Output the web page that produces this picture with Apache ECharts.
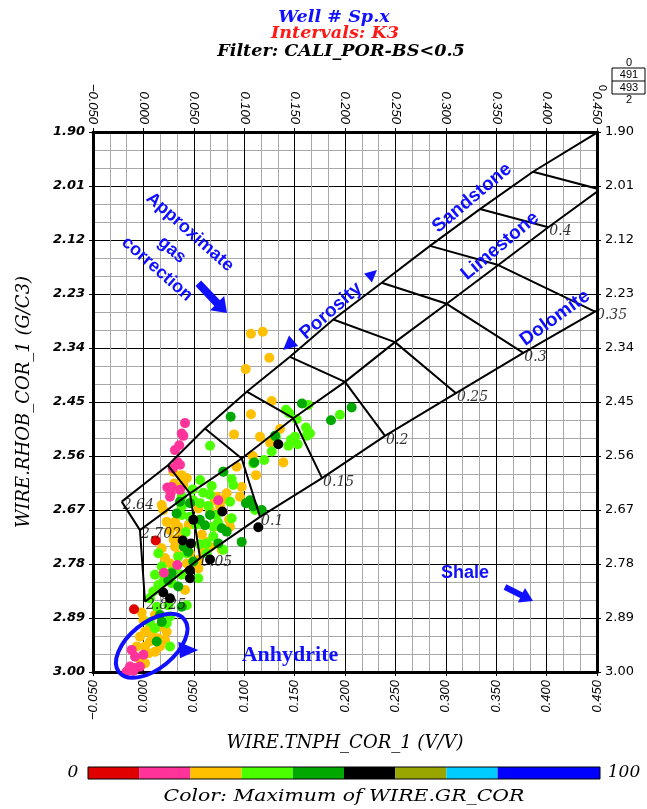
<!DOCTYPE html>
<html><head><meta charset="utf-8">
<script src="https://cdn.jsdelivr.net/npm/echarts@6/dist/echarts.min.js"></script>
<style>html,body{margin:0;padding:0;background:#fff}#c{width:647px;height:809px}</style>
</head><body><div id="c"></div>
<script>
// ---------------- data ----------------
const POROSITY = [0, 0.05, 0.1, 0.15, 0.2, 0.25, 0.3, 0.35, 0.4, 0.45];
const SAND_TNPH = [-0.0215, 0.0244, 0.0611, 0.1025, 0.1454, 0.1884, 0.2364, 0.2843, 0.3339, 0.3865];
const SAND_RHOB = [2.653, 2.579, 2.504, 2.429, 2.358, 2.282, 2.207, 2.132, 2.057, 1.981];
const SAND_END = [0.455, 1.895];
const LIME_TNPH = [-0.0034, 0.0462, 0.0975, 0.1487, 0.2000, 0.2496, 0.3009, 0.3521, 0.4017, 0.4530];
const LIME_RHOB = [2.711, 2.636, 2.565, 2.483, 2.409, 2.328, 2.250, 2.171, 2.094, 2.017];
const DOLO_TNPH = [0.0016, 0.0562, 0.1157, 0.1772, 0.2397, 0.3101, 0.3769, 0.4480];
const DOLO_RHOB = [2.857, 2.768, 2.684, 2.605, 2.519, 2.432, 2.350, 2.266];
const DOLO_END = [0.458, 2.254];
const MATRIX_LABELS = ['2.64', '2.702', '2.825'];

const GR_BREAKS = [0, 10, 20, 30, 40, 50, 60, 70, 80, 100];
const GR_COLORS = ['#e00000', '#ff3399', '#ffc000', '#4cff00', '#00a800', '#000000', '#99a600', '#00ccff', '#0000ff'];

// points per GR class: [TNPH, RHOB]; GR value of the class
const GR_ORANGE = 25, GR_LGREEN = 35, GR_GREEN = 45, GR_PINK = 15, GR_BLACK = 55, GR_RED = 5;
const PTS_ORANGE = [[0.1067,2.311],[0.1184,2.307],[0.1249,2.360],[0.1015,2.383],[0.1273,2.448],[0.1067,2.475],[0.1355,2.505],[0.0899,2.516],[0.1157,2.521],[0.1256,2.533],[0.1084,2.560],[0.1388,2.573],[0.1117,2.599],[0.0297,2.592],[0.0380,2.599],[0.0430,2.605],[0.0304,2.616],[0.0396,2.619],[0.0182,2.660],[0.0727,2.643],[0.0826,2.636],[0.0958,2.643],[0.0777,2.650],[0.0710,2.650],[0.0661,2.670],[0.0545,2.667],[0.0760,2.663],[0.0197,2.670],[0.0231,2.694],[0.0313,2.694],[0.0346,2.704],[0.0264,2.711],[0.0363,2.721],[0.0859,2.704],[0.0710,2.704],[0.0628,2.735],[0.0777,2.751],[0.0313,2.745],[0.0182,2.748],[0.0214,2.768],[0.0264,2.779],[0.0346,2.762],[0.0430,2.779],[0.0545,2.772],[0.0545,2.789],[0.0462,2.758],[0.0661,2.745],[0.0926,2.582],[0.0975,2.623],[0.0413,2.833],[-0.0017,2.879],[0.0000,2.894],[0.0016,2.918],[0.0082,2.921],[0.0165,2.908],[0.0231,2.918],[-0.0034,2.928],[0.0065,2.938],[0.0165,2.948],[0.0016,2.948],[-0.0066,2.948],[0.0049,2.962],[0.0115,2.959],[-0.0034,2.975],[0.0016,2.982],[0.0115,2.884],[0.0065,2.904],[0.0145,2.931],[0.0214,2.935],[0.0505,2.690],[0.0580,2.720],[0.0450,2.700],[0.0600,2.755],[0.0300,2.730],[0.0850,2.690]];
const PTS_LGREEN = [[0.1636,2.456],[0.1415,2.466],[0.1447,2.473],[0.1950,2.476],[0.1521,2.485],[0.1613,2.502],[0.1653,2.514],[0.1620,2.519],[0.1315,2.521],[0.1504,2.521],[0.1464,2.527],[0.1531,2.536],[0.1438,2.539],[0.0661,2.539],[0.1273,2.551],[0.1199,2.568],[0.0793,2.592],[0.0876,2.607],[0.0380,2.643],[0.0489,2.628],[0.0594,2.635],[0.0678,2.621],[0.0892,2.619],[0.0859,2.653],[0.0644,2.662],[0.0562,2.656],[0.0727,2.680],[0.1107,2.670],[0.0562,2.609],[0.0661,2.639],[0.0495,2.650],[0.0462,2.684],[0.0876,2.687],[0.0693,2.724],[0.0693,2.704],[0.0628,2.758],[0.1090,2.575],[0.0380,2.663],[0.0380,2.680],[0.0148,2.758],[0.0346,2.765],[0.0182,2.785],[0.0281,2.796],[0.0380,2.802],[0.0628,2.738],[0.0793,2.751],[0.0430,2.758],[0.0115,2.802],[0.0197,2.802],[0.0545,2.809],[0.0148,2.823],[0.0281,2.819],[0.0098,2.836],[0.0065,2.850],[0.0132,2.867],[0.0247,2.864],[0.0430,2.864],[0.0264,2.887],[0.0065,2.898],[0.0115,2.911],[0.0231,2.901],[0.0264,2.948],[0.0520,2.700],[0.0740,2.695],[0.0420,2.715],[0.0560,2.740],[0.0330,2.785],[0.0200,2.815]];
const PTS_GREEN = [[0.1573,2.453],[0.2066,2.461],[0.1861,2.487],[0.0866,2.480],[0.1100,2.573],[0.1306,2.519],[0.1018,2.656],[0.1174,2.670],[0.1058,2.650],[0.1090,2.663],[0.0330,2.677],[0.0363,2.653],[0.0462,2.656],[0.0611,2.701],[0.0777,2.707],[0.0826,2.714],[0.0975,2.735],[0.0743,2.738],[0.0661,2.680],[0.0495,2.775],[0.0281,2.799],[0.0247,2.813],[0.0346,2.826],[0.0380,2.867],[0.0182,2.898],[0.0165,2.884],[0.0132,2.938],[0.0445,2.755],[0.0793,2.592],[0.0560,2.690],[0.0400,2.745]];
const PTS_PINK = [[0.0413,2.493],[0.0380,2.514],[0.0396,2.519],[0.0356,2.538],[0.0313,2.548],[0.0336,2.572],[0.0291,2.585],[0.0363,2.578],[0.0237,2.624],[0.0271,2.636],[0.0264,2.643],[0.0281,2.623],[0.0363,2.629],[0.0743,2.650],[0.0204,2.798],[0.0336,2.782],[-0.0116,2.955],[0.0000,2.965],[-0.0083,2.969],[-0.0133,2.989],[-0.0083,2.992],[-0.0034,2.989],[-0.0166,2.999],[-0.0100,2.998]];
const PTS_BLACK = [[0.1338,2.536],[0.0783,2.673],[0.0495,2.690],[0.1140,2.705],[0.0390,2.732],[0.0471,2.738],[0.0661,2.771],[0.0462,2.793],[0.0462,2.809],[0.0197,2.838],[0.0264,2.850]];
const PTS_RED = [[0.0122,2.732],[-0.0093,2.872]];

const X_MIN = -0.05, X_MAX = 0.45, X_STEP = 0.05;
const Y_MIN = 1.90, Y_MAX = 3.00, Y_STEP = 0.11;

// ---------------- build ----------------
const BLUE = '#1010ff';
const classes = [[PTS_ORANGE, GR_ORANGE], [PTS_LGREEN, GR_LGREEN], [PTS_GREEN, GR_GREEN], [PTS_PINK, GR_PINK], [PTS_BLACK, GR_BLACK], [PTS_RED, GR_RED]];
const logData = [];
classes.forEach(([pts, gr]) => pts.forEach(p => logData.push([p[0], p[1], gr])));

const pair = (xs, ys) => xs.map((x, i) => [x, ys[i]]);
const sandLine = pair(SAND_TNPH, SAND_RHOB).concat([SAND_END]);
const limeLine = pair(LIME_TNPH, LIME_RHOB);
const doloLine = pair(DOLO_TNPH, DOLO_RHOB).concat([DOLO_END]);
const crossLines = POROSITY.map((phi, i) => {
  const pts = [[SAND_TNPH[i], SAND_RHOB[i]], [LIME_TNPH[i], LIME_RHOB[i]]];
  if (i < DOLO_TNPH.length) pts.push([DOLO_TNPH[i], DOLO_RHOB[i]]);
  return pts;
});
const labelPts = [
  {name: MATRIX_LABELS[0], value: [SAND_TNPH[0], SAND_RHOB[0]]},
  {name: MATRIX_LABELS[1], value: [LIME_TNPH[0], LIME_RHOB[0]]},
  {name: MATRIX_LABELS[2], value: [DOLO_TNPH[0], DOLO_RHOB[0]]}
];
POROSITY.forEach((phi, i) => {
  if (i === 0) return;
  if (i < DOLO_TNPH.length) labelPts.push({name: String(phi), value: [DOLO_TNPH[i], DOLO_RHOB[i]]});
  else labelPts.push({name: String(phi), value: [LIME_TNPH[i], LIME_RHOB[i]]});
});

const lineStyle = {color: '#000', width: 2};
const mkLine = (data) => ({type: 'line', xAxisIndex: 0, yAxisIndex: 0, data, symbol: 'none', silent: true, z: 3, lineStyle, animation: false});

const fmtX = v => (v < 0 ? '\u2212' : '') + Math.abs(v).toFixed(3);
const fmtY = v => v.toFixed(2);
const xLabelFont = {fontFamily: '"Liberation Sans", Arial, sans-serif', fontStyle: 'italic', fontSize: 13, color: '#000'};
const nameFont = {fontFamily: '"DejaVu Serif", serif', fontStyle: 'italic', fontSize: 18, color: '#000'};

const xBase = {
  type: 'value', gridIndex: 0, min: X_MIN, max: X_MAX, interval: X_STEP,
  axisLine: {show: true, onZero: false, lineStyle: {color: '#000', width: 3}},
  axisTick: {show: true, inside: false, length: 4, lineStyle: {color: '#000', width: 1}},
  axisLabel: Object.assign({rotate: 90, margin: 8, formatter: fmtX}, xLabelFont),
  splitLine: {show: false}, minorTick: {show: false}, minorSplitLine: {show: false}
};
const yBase = {
  type: 'value', gridIndex: 0, min: Y_MIN, max: Y_MAX, interval: Y_STEP, inverse: true,
  axisLine: {show: true, onZero: false, lineStyle: {color: '#000', width: 3}},
  axisTick: {show: true, inside: false, length: 4, lineStyle: {color: '#000', width: 1}},
  splitLine: {show: false}, minorTick: {show: false}, minorSplitLine: {show: false}
};

const txt = (text, x, y, font, fill, rot, sx) => ({
  type: 'text', x, y, rotation: rot || 0, scaleX: sx || 1, silent: true, z: 100,
  style: {text, font, fill, textAlign: 'center', textVerticalAlign: 'middle', align: 'center', verticalAlign: 'middle'}
});
const poly = (points) => ({type: 'polygon', silent: true, z: 100, shape: {points}, style: {fill: BLUE}});
const ANNOT = 'bold 18px "Liberation Sans Narrow", "Liberation Sans", Arial, sans-serif';
const ANNOT_L = 'bold 19px "Liberation Sans Narrow", "Liberation Sans", Arial, sans-serif';
const TITLE = 'bold italic 16px "DejaVu Serif", serif';

const graphics = [
  txt('Well # Sp.x', 334, 18, TITLE, BLUE, 0, 1.1),
  txt('Intervals: K3', 335, 34, TITLE, '#ff1a1a', 0, 1.1),
  txt('Filter: CALI_POR-BS<0.5', 341, 52, TITLE, '#000', 0, 1.1),
  // top-right box
  txt('0', 629, 63, '11px "Liberation Sans", Arial', '#000'),
  {type: 'rect', silent: true, shape: {x: 612, y: 68, width: 33, height: 26}, style: {fill: 'none', stroke: '#000', lineWidth: 1}},
  {type: 'line', silent: true, shape: {x1: 612, y1: 81, x2: 645, y2: 81}, style: {stroke: '#000', lineWidth: 1}},
  txt('491', 629, 74.5, '11px "Liberation Sans", Arial', '#000'),
  txt('493', 629, 87.5, '11px "Liberation Sans", Arial', '#000'),
  txt('2', 629, 100, '11px "Liberation Sans", Arial', '#000'),
  txt('0', 604, 88, '11px "Liberation Sans", Arial', '#000', Math.PI / 2),
  // annotations
  txt('Approximate', 190, 232, ANNOT, BLUE, -0.72),
  txt('gas', 172, 250, ANNOT, BLUE, -0.72),
  txt('correction', 157, 269, ANNOT, BLUE, -0.72),
  poly([[195.5,286.1],[214.3,305.9],[210,310.2],[227,313],[224.2,296],[219.9,300.3],[201.1,280.5]]),
  txt('Porosity', 331, 311, ANNOT_L, BLUE, 0.72),
  poly([[377,270],[371.9,282.5],[364.1,273.5]]),
  poly([[283,350],[298.2,346.1],[289,335.5]]),
  txt('Sandstone', 472, 198, ANNOT_L, BLUE, 0.70),
  txt('Limestone', 500, 246, ANNOT_L, BLUE, 0.70),
  txt('Dolomite', 555, 318, ANNOT_L, BLUE, 0.63),
  txt('Shale', 465, 573, 'bold 18px "Liberation Sans", Arial, sans-serif', BLUE),
  poly([[503.7,589.7],[520.1,597.9],[517.8,602.4],[533,601],[525,588],[522.7,592.5],[506.3,584.3]]),
  txt('Anhydrite', 290, 655, 'bold 22px "Liberation Serif", "Times New Roman", serif', BLUE),
  poly([[178.3,641.7],[198.3,650],[180,658.3]]),
  {type: 'ellipse', silent: true, z: 100, x: 151.7, y: 645.8, rotation: 0.68, shape: {cx: 0, cy: 0, rx: 42, ry: 23}, style: {fill: 'none', stroke: BLUE, lineWidth: 4}},
  // colour bar texts
  txt('0', 73, 773, 'italic 17px "DejaVu Serif", serif', '#000'),
  txt('100', 624, 773, 'italic 17px "DejaVu Serif", serif', '#000'),
  txt('Color: Maximum of WIRE.GR_COR', 344, 797, 'italic 17px "DejaVu Serif", serif', '#000', 0, 1.2)
];

const barSeries = GR_COLORS.map((c, i) => ({
  type: 'bar', xAxisIndex: 2, yAxisIndex: 2, stack: 'cb', barWidth: '100%', silent: true,
  data: [GR_BREAKS[i + 1] - GR_BREAKS[i]], itemStyle: {color: c}, animation: false
}));

const option = {
  backgroundColor: '#fff',
  animation: false,
  grid: [
    {left: 93, top: 132, width: 504, height: 540, show: false},
    {left: 88, top: 767, width: 512, height: 12, show: true, borderColor: '#000', borderWidth: 1, backgroundColor: 'transparent', z: 5}
  ],
  xAxis: [
    Object.assign({}, xBase, {
      position: 'bottom', name: 'WIRE.TNPH_COR_1 (V/V)', nameLocation: 'middle', nameGap: 62, nameTextStyle: nameFont,
      splitLine: {show: true, lineStyle: {color: '#000', width: 1}},
      minorTick: {show: false, splitNumber: 3},
      minorSplitLine: {show: true, lineStyle: {color: '#a8a8a8', width: 1}}
    }),
    Object.assign({}, xBase, {position: 'top'}),
    {type: 'value', gridIndex: 1, min: 0, max: 100, show: false}
  ],
  yAxis: [
    Object.assign({}, yBase, {
      position: 'left', name: 'WIRE.RHOB_COR_1 (G/C3)', nameLocation: 'middle', nameGap: 60, nameRotate: 90, nameTextStyle: nameFont,
      axisLabel: {margin: 8, formatter: fmtY, fontFamily: '"DejaVu Sans", sans-serif', fontStyle: 'italic', fontWeight: 'bold', fontSize: 13, color: '#000'},
      splitLine: {show: true, lineStyle: {color: '#000', width: 1}},
      minorTick: {show: false, splitNumber: 3},
      minorSplitLine: {show: true, lineStyle: {color: '#a8a8a8', width: 1}}
    }),
    Object.assign({}, yBase, {
      position: 'right',
      axisLabel: {margin: 8, formatter: fmtY, fontFamily: '"DejaVu Sans", sans-serif', fontSize: 13, color: '#000'}
    }),
    {type: 'category', gridIndex: 1, data: ['GR'], show: false}
  ],
  visualMap: {
    type: 'piecewise', show: false, dimension: 2, seriesIndex: 0,
    pieces: GR_COLORS.map((c, i) => ({gte: GR_BREAKS[i], lt: GR_BREAKS[i + 1], color: c}))
  },
  series: [
    {type: 'scatter', name: 'log', xAxisIndex: 0, yAxisIndex: 0, data: logData, symbolSize: 10, silent: true, z: 2,
     itemStyle: {opacity: 1}, animation: false},
    mkLine(sandLine), mkLine(limeLine), mkLine(doloLine)
  ].concat(crossLines.map(mkLine)).concat([
    {type: 'scatter', xAxisIndex: 0, yAxisIndex: 0, data: labelPts, symbolSize: 0, silent: true, z: 4, animation: false,
     label: {show: true, position: 'right', distance: 1, offset: [0, 4], formatter: '{b}',
             fontFamily: '"DejaVu Serif", serif', fontStyle: 'italic', fontSize: 14, color: '#000'}}
  ]).concat(barSeries),
  graphic: {elements: graphics}
};

const chart = echarts.init(document.getElementById('c'), null, {renderer: 'canvas'});
chart.setOption(option);
</script>
</body></html>
